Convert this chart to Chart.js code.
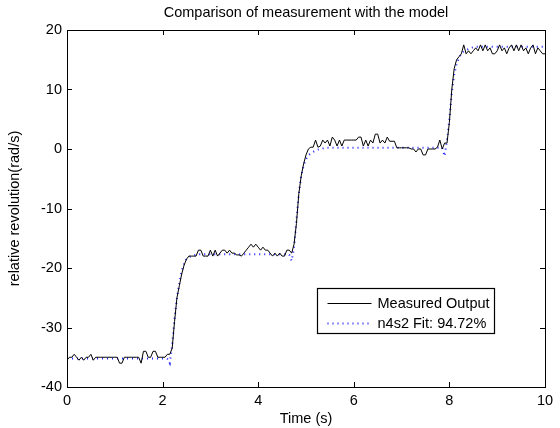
<!DOCTYPE html>
<html>
<head>
<meta charset="utf-8">
<title>Comparison of measurement with the model</title>
<script src="https://cdn.jsdelivr.net/npm/chart.js@4/dist/chart.umd.min.js"></script>
<style>
  html, body { margin: 0; padding: 0; background: #fff; }
  canvas { display: block; }
</style>
</head>
<body>
<canvas id="chart" width="560" height="428"></canvas>
<script>
// sampling period of the logged signal (s)
const sampleTime = 0.05;

// measured revolution, 20 samples per row
const measuredOutput = [
  -35.5, -35, -35, -34.5, -35, -35.5, -35, -35.5, -35, -35, -34.5, -35.5, -35, -35, -35, -35, -35, -35, -35, -35,
  -35, -35, -36, -36, -35, -35, -35, -35, -35, -35, -35, -36, -34, -34, -35, -35, -34, -34, -35, -35,
  -35, -35, -34.5, -34.5, -33.5, -29, -25, -23, -21, -19.5, -18.5, -18, -18, -18, -18, -17, -17, -18, -18, -18,
  -17, -18, -17, -18, -17.5, -17, -17, -17.5, -17, -17.5, -17.5, -17.8, -17.8, -18, -17.5, -17, -16.5, -16, -16.5, -16,
  -16.5, -17, -16.5, -17, -17, -17.5, -18, -17.5, -18, -17.5, -18, -18, -17, -17, -17.5, -16, -12.5, -7.5, -4.5, -2.5,
  -1, 0, 0.3, 0.3, 1.5, 0.3, 0.5, 1.5, 1, 1.5, 0.5, 2, 1.5, 0.5, 1.5, 0.5, 1.5, 1.5, 1.5, 1.5,
  1.5, 1.5, 2, 2, 0.5, 1.5, 0.5, 1.5, 1, 2.5, 2.5, 1, 1.5, 1, 2, 1.3, 1.3, 1.3, 0.2, 0.2,
  0.2, 0.2, 0.2, 0.2, 0, 0, -0.5, 0, 0, -1, -1, 0, 0, 0, 0, 0.3, 1.5, 0, 1, 1,
  4.5, 10, 13.5, 15, 15.5, 16, 17.5, 16, 16.5, 16, 16.5, 17, 16.5, 17.5, 16.5, 17.5, 16.5, 17, 16, 16,
  16.5, 17.5, 16.5, 17, 16, 17, 17.5, 16.5, 17.5, 16.5, 17.5, 16.5, 17, 16, 17, 17.5, 16, 17, 16.5, 16,
  16
];

// simulated output of the n4s2 model
const modelOutput = [
  -35.2, -35.2, -35.2, -35.2, -35.2, -35.2, -35.2, -35.2, -35.2, -35.2, -35.2, -35.2, -35.2, -35.2, -35.2, -35.2, -35.2, -35.2, -35.2, -35.2,
  -35.2, -35.2, -35.2, -35.2, -35.2, -35.2, -35.2, -35.2, -35.2, -35.2, -35.2, -35.2, -35.2, -35.2, -35.2, -35.2, -35.2, -35.2, -35.2, -35.2,
  -35.2, -35.2, -35.3, -36, -33, -28.5, -25, -22.5, -20.5, -19.3, -18.5, -18.2, -18, -17.9, -17.8, -17.7, -17.7, -17.7, -17.7, -17.7,
  -17.7, -17.7, -17.7, -17.7, -17.7, -17.7, -17.7, -17.7, -17.7, -17.7, -17.7, -17.7, -17.7, -17.7, -17.7, -17.7, -17.7, -17.7, -17.7, -17.7,
  -17.7, -17.7, -17.7, -17.7, -17.7, -17.7, -17.7, -17.7, -17.7, -17.7, -17.7, -17.7, -17.7, -17.8, -18.8, -16.5, -12, -7.5, -4.5, -2.8,
  -1.7, -1.1, -0.7, -0.5, -0.3, -0.1, 0, 0.1, 0.2, 0.2, 0.2, 0.2, 0.2, 0.2, 0.2, 0.2, 0.2, 0.2, 0.2, 0.2,
  0.2, 0.2, 0.2, 0.2, 0.2, 0.2, 0.2, 0.2, 0.2, 0.2, 0.2, 0.2, 0.2, 0.2, 0.2, 0.2, 0.2, 0.2, 0.2, 0.2,
  0.2, 0.2, 0.2, 0.2, 0.2, 0.2, 0.2, 0.2, 0.2, 0.2, 0.2, 0.2, 0.2, 0.2, 0.2, 0.2, 0.2, 0.2, -1.2, 1.5,
  5, 9.5, 12.5, 14.3, 15.3, 16, 16.4, 16.6, 16.8, 17, 17.1, 17.2, 17.2, 17.2, 17.2, 17.2, 17.2, 17.2, 17.2, 17.2,
  17.2, 17.2, 17.2, 17.2, 17.2, 17.2, 17.2, 17.2, 17.2, 17.2, 17.2, 17.2, 17.2, 17.2, 17.2, 17.2, 17.2, 17.2, 17.2, 17.2,
  17.2
];

const seriesLabels = ['Measured Output', 'n4s2 Fit: 94.72%'];
const xTicks = [0, 2, 4, 6, 8, 10];
const yTicks = [-40, -30, -20, -10, 0, 10, 20];

const time = measuredOutput.map((_, i) => +(i * sampleTime).toFixed(2));
const toPoints = values => values.map((v, i) => ({ x: time[i], y: v }));

const FONT = '"Liberation Sans", Arial, Helvetica, sans-serif';
const FONT_SIZE = 14.5;
Chart.defaults.font.family = FONT;
Chart.defaults.font.size = FONT_SIZE;
Chart.defaults.color = '#000';

// box around the axes with inward tick marks on all four sides
const boxedAxes = {
  id: 'boxedAxes',
  afterDatasetsDraw(chart) {
    const { ctx, chartArea: { left, right, top, bottom }, scales: { x, y } } = chart;
    ctx.save();
    ctx.strokeStyle = '#000';
    ctx.lineWidth = 1;
    ctx.beginPath();
    x.ticks.forEach(t => {
      const px = Math.round(x.getPixelForValue(t.value)) + 0.5;
      ctx.moveTo(px, bottom); ctx.lineTo(px, bottom - 5);
      ctx.moveTo(px, top); ctx.lineTo(px, top + 5);
    });
    y.ticks.forEach(t => {
      const py = Math.round(y.getPixelForValue(t.value)) + 0.5;
      ctx.moveTo(left, py); ctx.lineTo(left + 5, py);
      ctx.moveTo(right, py); ctx.lineTo(right - 5, py);
    });
    ctx.stroke();
    ctx.strokeRect(Math.round(left) + 0.5, Math.round(top) + 0.5, Math.round(right - left), Math.round(bottom - top));
    ctx.restore();
  }
};

// legend box sitting inside the lower right part of the axes
const insetLegend = {
  id: 'insetLegend',
  afterDraw(chart) {
    const { ctx, chartArea } = chart;
    const w = 177, h = 45;
    const bx = Math.round(chartArea.right - 51 - w) + 0.5;
    const by = Math.round(chartArea.bottom - 54 - h) + 0.5;
    ctx.save();
    ctx.fillStyle = '#fff';
    ctx.fillRect(bx, by, w, h);
    ctx.strokeStyle = '#000';
    ctx.lineWidth = 1.2;
    ctx.strokeRect(bx, by, w, h);
    ctx.font = FONT_SIZE + 'px ' + FONT;
    ctx.textBaseline = 'middle';
    ctx.textAlign = 'left';
    chart.data.datasets.forEach((ds, i) => {
      const ry = Math.round(by + 14 + i * 20);
      ctx.beginPath();
      ctx.strokeStyle = ds.borderColor;
      ctx.lineWidth = ds.borderWidth;
      ctx.setLineDash(ds.borderDash || []);
      ctx.moveTo(bx + 10, ry + 0.5);
      ctx.lineTo(bx + 54, ry + 0.5);
      ctx.stroke();
      ctx.setLineDash([]);
      ctx.fillStyle = '#000';
      ctx.fillText(ds.label, bx + 60, ry + 1);
    });
    ctx.restore();
  }
};

new Chart(document.getElementById('chart'), {
  type: 'line',
  data: {
    datasets: [
      {
        label: seriesLabels[0],
        data: toPoints(measuredOutput),
        borderColor: '#000',
        borderWidth: 1,
        pointRadius: 0,
        tension: 0,
      },
      {
        label: seriesLabels[1],
        data: toPoints(modelOutput),
        borderColor: 'rgb(30, 30, 255)',
        borderWidth: 2,
        borderDash: [1, 4],
        borderCapStyle: 'butt',
        pointRadius: 0,
        tension: 0,
      },
    ],
  },
  options: {
    responsive: false,
    animation: false,
    events: [],
    layout: { padding: { left: 0, right: 15, top: 0, bottom: 0 } },
    plugins: {
      legend: { display: false },
      tooltip: { enabled: false },
    },
    scales: {
      x: {
        type: 'linear',
        min: 0,
        max: 10,
        afterBuildTicks: scale => { scale.ticks = xTicks.map(v => ({ value: v })); },
        afterFit: scale => { scale.height = 41; },
        grid: { display: false, drawTicks: false },
        border: { display: false },
        ticks: { padding: 5.3, maxRotation: 0 },
        title: { display: true, text: 'Time (s)', padding: { top: 0, bottom: 0.3 } },
      },
      // top axis only carries the plot heading, centred over the axes
      heading: {
        type: 'linear',
        position: 'top',
        axis: 'x',
        min: 0,
        max: 10,
        afterFit: scale => { scale.height = 30; },
        grid: { display: false, drawTicks: false },
        border: { display: false },
        ticks: { display: false },
        title: {
          display: true,
          text: 'Comparison of measurement with the model',
          padding: { top: 4.3, bottom: 0 },
        },
      },
      y: {
        min: -40,
        max: 20,
        afterBuildTicks: scale => { scale.ticks = yTicks.map(v => ({ value: v })); },
        afterFit: scale => { scale.width = 67; },
        grid: { display: false, drawTicks: false },
        border: { display: false },
        ticks: { padding: 5 },
        title: { display: true, text: 'relative revolution(rad/s)', padding: { top: 6.3, bottom: 0 } },
      },
    },
  },
  plugins: [boxedAxes, insetLegend],
});
</script>
</body>
</html>
